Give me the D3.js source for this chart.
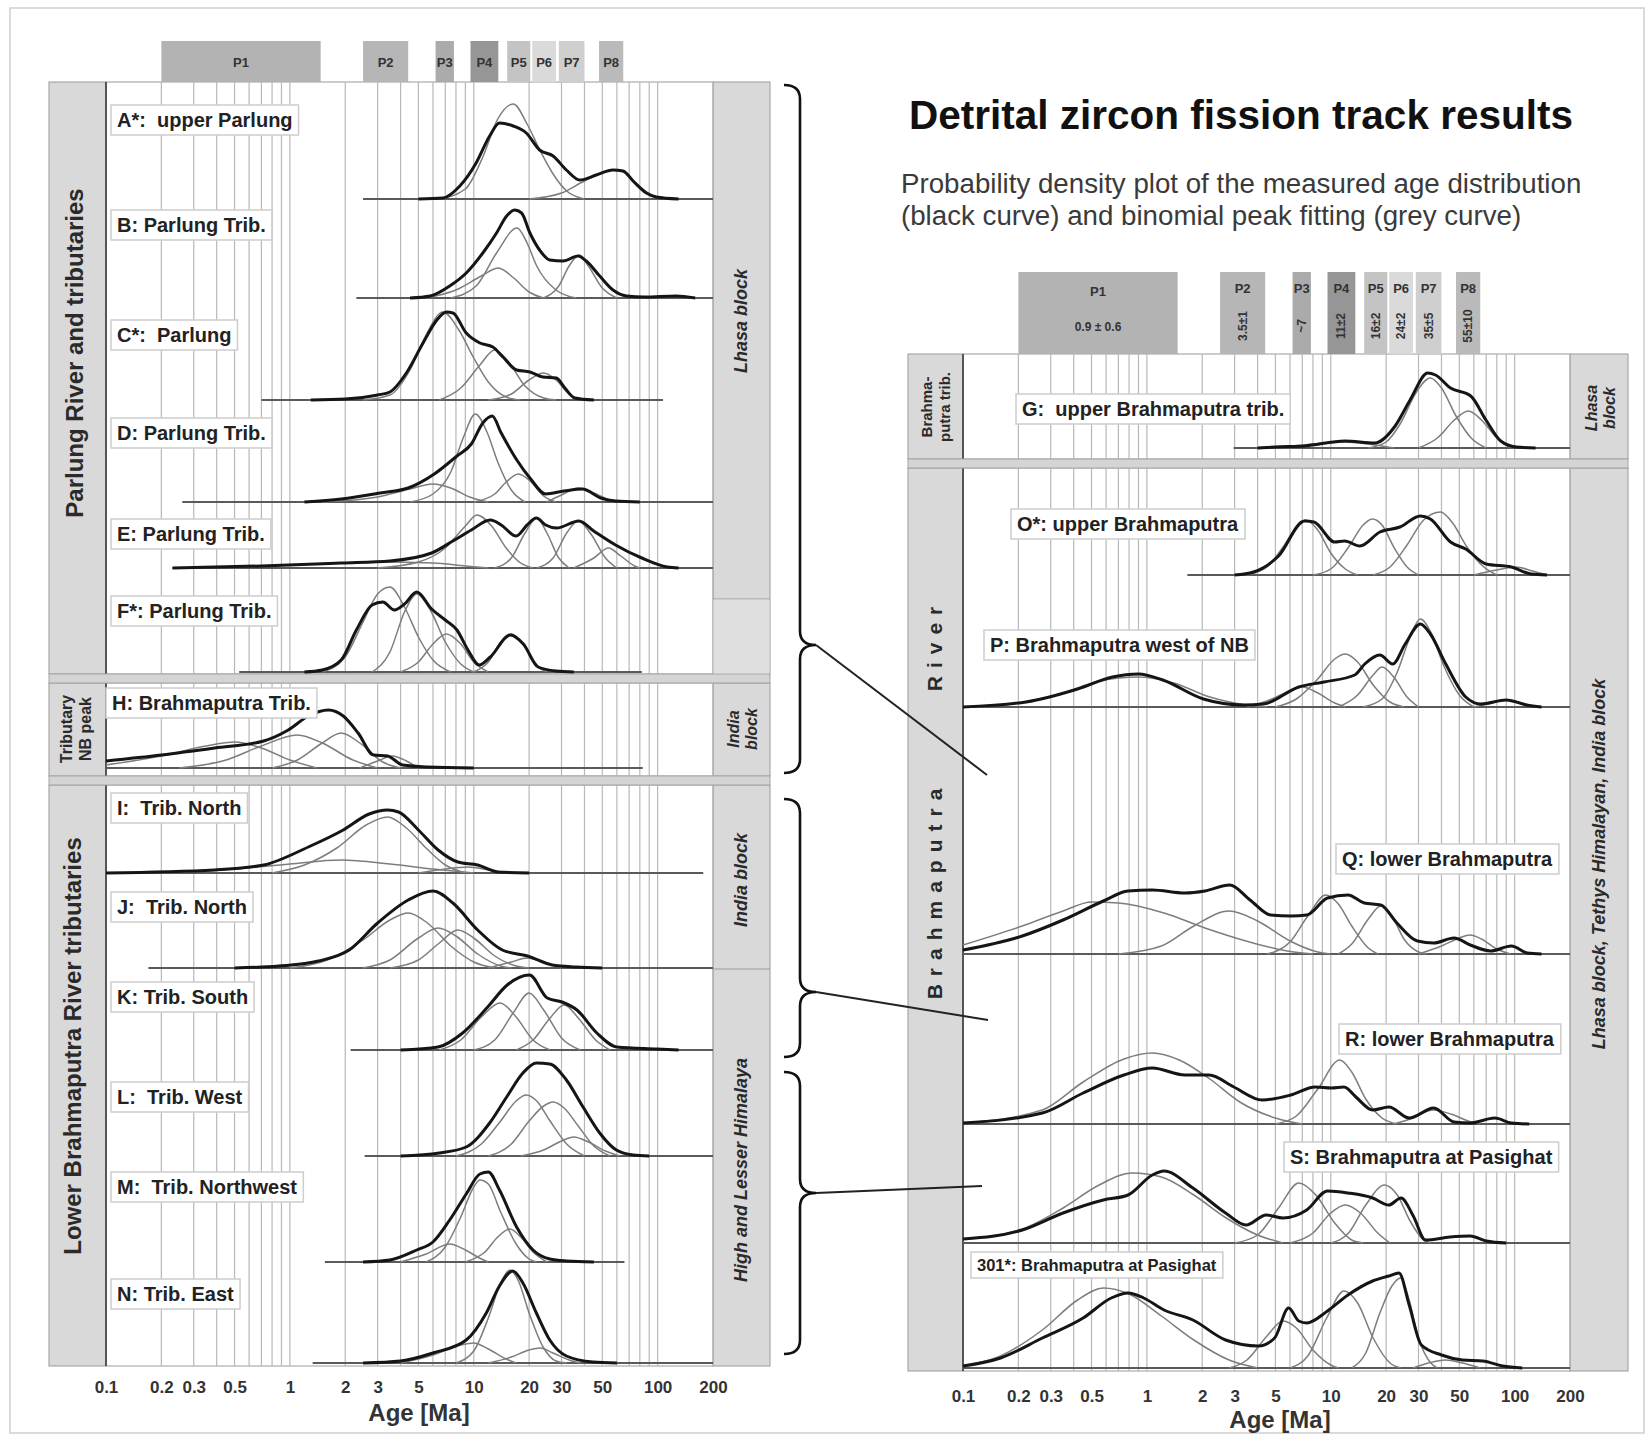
<!DOCTYPE html>
<html>
<head>
<meta charset="utf-8">
<script src="https://cdn.jsdelivr.net/npm/d3@7"></script>
<style>
  body { margin: 0; background: #fff; }
  svg { display: block; font-family: "Liberation Sans", Arial, sans-serif; }
</style>
</head>
<body>
<div id="chart"></div>
<script>
// ---- data ----
const tickAges = [0.1, 0.2, 0.3, 0.5, 1, 2, 3, 5, 10, 20, 30, 50, 100, 200];
const tickLabels = ["0.1", "0.2", "0.3", "0.5", "1", "2", "3", "5", "10", "20", "30", "50", "100", "200"];

const peakNames = ["P1", "P2", "P3", "P4", "P5", "P6", "P7", "P8"];
const peakLo = [0.2, 2.5, 6.2, 9.6, 15.2, 20.8, 29, 48];
const peakHi = [1.47, 4.4, 7.8, 13.6, 20.3, 28, 40, 65];
const peakAges = ["0.9 \u00b1 0.6", "3.5\u00b11", "~7", "11\u00b12", "16\u00b12", "24\u00b12", "35\u00b15", "55\u00b110"];

const sampleIds = ["A", "B", "C", "D", "E", "F", "H", "I", "J", "K", "L", "M", "N", "G", "O", "P", "Q", "R", "S", "301"];
const sampleLabels = ["A*:  upper Parlung", "B: Parlung Trib.", "C*:  Parlung", "D: Parlung Trib.", "E: Parlung Trib.",
  "F*: Parlung Trib.", "H: Brahmaputra Trib.", "I:  Trib. North", "J:  Trib. North", "K: Trib. South",
  "L:  Trib. West", "M:  Trib. Northwest", "N: Trib. East", "G:  upper Brahmaputra trib.", "O*: upper Brahmaputra",
  "P: Brahmaputra west of NB", "Q: lower Brahmaputra", "R: lower Brahmaputra", "S: Brahmaputra at Pasighat",
  "301*: Brahmaputra at Pasighat"];
const baseFrom = [2.5, 2.3, 0.7, 0.26, 0.23, 0.53, 0.1, 0.1, 0.17, 2.14, 2.55, 1.55, 1.33, 2.96, 1.66, 0.1, 0.1, 0.1, 0.1, 0.1];
const baseTo = [200, 200, 107, 200, 200, 82, 83, 177, 200, 200, 200, 66, 200, 200, 200, 200, 200, 200, 200, 200];

// probability density (black) and fitted peaks (grey): [age Ma, relative density]
const pdpA = [[5,0],[6.8,1],[8.4,13],[10.3,36],[12.2,63],[13.8,76],[16.4,73],[19.3,66],[22.8,49],[27,43],[31.9,29],[37.7,19],[46.4,24],[57.2,29],[64.8,28],[73.5,18],[86.8,6],[98.4,2],[130,0]];
const fitA = [
  [[6.5,0],[9,10],[11.2,42],[13.5,80],[16.4,95],[19.5,75],[23,48],[27,25],[32,8],[40,0]],
  [[20,0],[30,6],[40,18],[57,29],[66,27],[78,14],[95,3],[110,0]]
];
const pdpB = [[4.5,0],[5.8,2],[7.4,12],[9.1,25],[11.2,45],[13.3,65],[15.1,82],[16.7,88],[18.2,85],[20.2,65],[22.8,48],[25.9,38],[30.6,37],[36.9,42],[40.9,37],[48.4,22],[57.2,8],[67.6,2],[85,1],[126,2],[160,0]];
const fitB = [
  [[7.5,0],[10.3,12],[13.3,45],[17.2,70],[19.5,55],[22,32],[28,8],[36,0]],
  [[5.5,0],[8,8],[11,22],[13.6,30],[16.5,20],[20,6],[24,0]],
  [[24,0],[29,12],[33,32],[37.5,43],[42,32],[50,10],[60,0]]
];
const pdpC = [[1.3,0],[2,1],[3,5],[3.5,8],[4.3,27],[5.3,57],[6.3,80],[7.1,88],[7.7,87],[9.1,67],[10.8,57],[12.7,53],[14.4,43],[17.1,30],[20.2,28],[23.8,23],[28.1,22],[31.3,12],[35.4,2],[45,0]];
const fitC = [
  [[2.5,0],[3.5,5],[4.5,30],[5.5,65],[6.8,88],[8.3,70],[10,42],[12,18],[15,3],[18,0]],
  [[6.5,0],[8.5,12],[10.8,35],[13,50],[15.5,38],[19,14],[24,2],[28,0]],
  [[12,0],[16,6],[20,20],[24,27],[28,20],[33,6],[38,0]]
];
const pdpD = [[1.2,0],[1.9,3],[3.1,9],[4.4,14],[6.1,28],[8.1,46],[9.7,58],[11.2,79],[12.6,86],[14.1,69],[17,43],[20.4,23],[24.6,8],[31,11],[39,13],[49,4],[59,1],[80,0]];
const fitD = [
  [[4.5,0],[6,8],[7.5,30],[8.8,65],[10.2,88],[11.8,70],[13.5,40],[16,12],[19,0]],
  [[10,0],[13,8],[15,20],[17.5,28],[20.5,20],[24,6],[28,0]],
  [[1.5,0],[3,5],[4.5,13],[6,18],[7.5,14],[9.5,5],[12,0]],
  [[25,0],[30,7],[37,14],[45,9],[55,2],[62,0]]
];
const pdpE = [[0.23,0],[0.7,2],[1.9,5],[3.5,7],[5.9,15],[7.7,27],[9.7,38],[12.3,48],[14.1,43],[17,32],[19.5,43],[21.9,50],[24.6,43],[28.2,40],[37.3,47],[44.9,37],[59,23],[82,10],[113,1],[130,0]];
const fitE = [
  [[3,0],[5,6],[7,20],[9,42],[10.4,53],[12.5,42],[15,20],[18,5],[21,0]],
  [[13,0],[16,10],[19,35],[22,50],[25,35],[29,10],[33,0]],
  [[22,0],[27,10],[32,35],[37,47],[43,35],[52,10],[60,0]],
  [[35,0],[45,10],[54,20],[63,12],[75,2],[80,0]],
  [[0.3,0],[1,3],[3,6],[6,5],[9,2],[12,0]]
];
const pdpF = [[1.2,0],[1.5,2],[1.9,12],[2.3,42],[2.8,67],[3.2,70],[3.7,62],[4.2,68],[4.9,80],[5.9,63],[7,52],[8.1,42],[9.3,22],[10.7,7],[12.3,15],[15.8,37],[18.6,28],[22.4,5],[28,1],[35,0]];
const fitF = [
  [[1.5,0],[2,15],[2.5,50],[3,78],[3.5,85],[4.2,65],[5,35],[6,12],[7.5,0]],
  [[2.8,0],[3.5,20],[4.2,60],[4.9,78],[5.8,62],[7,30],[8.5,8],[10,0]],
  [[4,0],[5,10],[6,28],[7.1,38],[8.5,28],[10,10],[12,0]],
  [[10,0],[12,10],[14,30],[16,38],[18.5,28],[22,6],[25,0]]
];
const pdpH = [[0.1,7],[0.2,13],[0.39,20],[0.72,27],[0.98,38],[1.26,52],[1.62,58],[1.95,52],[2.35,35],[2.85,13],[3.4,12],[4.1,3],[5.6,1],[10,0]];
const fitH = [
  [[0.25,0],[0.45,8],[0.7,22],[1.1,33],[1.5,25],[2.2,8],[3,0]],
  [[0.8,0],[1.1,8],[1.5,25],[1.9,35],[2.4,25],[3.2,6],[4,0]],
  [[0.1,3],[0.2,12],[0.35,22],[0.5,26],[0.7,20],[1,8],[1.4,0]],
  [[2.4,0],[3,7],[3.6,12],[4.3,7],[5,0]]
];
const pdpI = [[0.1,0],[0.39,3],[0.72,8],[1.26,26],[1.95,43],[2.7,59],[3.4,63],[3.9,61],[5,43],[6.4,23],[8.2,11],[10.5,8],[13.5,1],[20,0]];
const fitI = [
  [[0.8,0],[1.2,8],[1.8,25],[2.6,48],[3.4,56],[4.3,45],[5.5,25],[7,8],[9,0]],
  [[0.2,0],[0.5,4],[1,9],[1.9,13],[3.5,9],[6,4],[10,0]],
  [[5,0],[7,4],[9.3,6],[12,3],[15,0]]
];
const pdpJ = [[0.5,0],[0.87,2],[1.43,7],[2.1,18],[3,45],[4.4,68],[6,77],[7.7,65],[10.5,38],[14.3,18],[19.6,12],[26.7,3],[36,1],[50,0]];
const fitJ = [
  [[1,0],[1.6,8],[2.5,28],[3.5,48],[4.4,55],[5.6,45],[7.5,22],[10,6],[13,0]],
  [[2.5,0],[3.5,8],[5,30],[6.4,40],[8,32],[10.5,14],[14,2],[16,0]],
  [[3.5,0],[5,8],[6.5,25],[8.2,38],[10,30],[13,12],[17,2],[20,0]],
  [[12,0],[16,6],[19.6,10],[24,6],[30,0]]
];
const pdpK = [[4,0],[6.4,3],[8.7,17],[11.9,43],[15.2,65],[20.1,75],[25.1,52],[30.2,48],[36.4,40],[46.7,17],[60,3],[99,1],[130,0]];
const fitK = [
  [[6.5,0],[8.5,10],[11,33],[13.9,47],[17,33],[21,10],[26,0]],
  [[10,0],[13,10],[16.5,38],[20,57],[24,40],[30,12],[38,0]],
  [[17,0],[21,10],[26,32],[31,45],[37,32],[46,10],[55,0]]
];
const pdpL = [[4,0],[6.5,3],[9.1,9],[12.2,33],[15.1,59],[18.5,83],[21.9,93],[25.9,92],[31.9,76],[39.3,49],[48.4,23],[59.6,6],[73.5,1],[90,0]];
const fitL = [
  [[8,0],[11,12],[14,35],[17,55],[19.3,61],[22,55],[26,35],[32,12],[40,0]],
  [[12,0],[16,12],[20,35],[24,50],[27,54],[31,48],[37,30],[45,10],[55,0]],
  [[18,0],[24,6],[30,15],[35,19],[42,14],[52,5],[62,0]]
];
const pdpM = [[2.5,0],[3.5,2],[4.9,12],[6,20],[7.4,42],[9.1,68],[10.8,88],[12,90],[13.8,72],[17.1,35],[21,12],[25.9,3],[32,1],[45,0]];
const fitM = [
  [[5.5,0],[7,15],[8.5,45],[10,75],[10.8,82],[12,78],[14,50],[17,18],[20,3],[22,0]],
  [[4,0],[5.5,8],[7.4,18],[9,12],[11,3],[12,0]],
  [[9,0],[11.5,10],[13.5,25],[15.7,33],[18,25],[21,10],[25,0]]
];
const pdpN = [[2.5,0],[4,2],[6,10],[9.1,23],[11.7,50],[13.8,77],[16.3,92],[18.5,80],[21.9,50],[25.9,23],[31.9,7],[44.5,1],[60,0]];
const fitN = [
  [[8,0],[10,12],[12,45],[14,80],[15.7,93],[17.5,82],[20,50],[24,15],[28,2],[32,0]],
  [[12,0],[16,6],[20,13],[23,15],[27,10],[33,3],[38,0]],
  [[4,0],[6,8],[8.5,18],[10,20],[12,14],[15,4],[17,0]]
];
const pdpG = [[4,0],[5,1],[7.2,2],[11.9,7],[17.4,5],[22.4,22],[27,48],[33.7,75],[37.1,73],[44.8,60],[57.7,52],[69.8,28],[84,7],[102,1],[130,0]];
const fitG = [
  [[16,0],[20,6],[24,25],[29,55],[34.8,70],[40,60],[48,32],[58,10],[70,0]],
  [[30,0],[38,10],[47,28],[56,37],[66,28],[80,10],[95,0]],
  [[5,0],[8,4],[12,6],[16,4],[22,0]]
];
const pdpO = [[3,0],[3.8,3],[5.2,19],[7.2,54],[8.1,53],[10.5,33],[11.9,34],[14.4,29],[18.5,43],[23.8,48],[30.7,59],[34.8,56],[44.8,33],[54.2,26],[70,11],[96,8],[123,1],[150,0]];
const fitO = [
  [[3.5,0],[4.5,8],[5.5,28],[6.5,48],[7.3,55],[8.5,45],[10,22],[12,6],[14,0]],
  [[8,0],[10,6],[12.5,28],[15,50],[16.8,56],[19,50],[22,28],[26,8],[30,0]],
  [[17,0],[21,8],[26,30],[32,55],[39.5,63],[46,52],[55,28],[68,8],[80,0]],
  [[60,0],[80,5],[102,8],[125,4],[150,0]]
];
const pdpP = [[0.1,0],[0.22,5],[0.42,18],[0.65,30],[0.9,33],[1.22,27],[2.03,8],[3.36,2],[4.3,3],[6.7,20],[9.2,25],[13.5,32],[15.3,43],[18.5,52],[21.7,43],[25.4,63],[30.7,83],[34.8,73],[42.2,43],[54.2,10],[65.5,3],[90,7],[116,2],[140,0]];
const fitP = [
  [[0.12,0],[0.2,4],[0.35,14],[0.55,26],[0.9,30],[1.4,24],[2.2,10],[3.5,2],[4.5,0]],
  [[5,0],[6.5,8],[8.5,28],[10.5,48],[12,53],[14,45],[17,22],[21,5],[25,0]],
  [[15,0],[19,8],[23,35],[27,70],[30.7,88],[35,75],[41,42],[50,12],[60,0]],
  [[11,0],[14,12],[17,32],[19,40],[22,30],[26,10],[30,0]],
  [[3.5,0],[4.5,6],[5.8,15],[7,20],[8.5,14],[10.5,4],[12,0]],
  [[60,0],[75,4],[90,7],[110,4],[130,0]]
];
const pdpQ = [[0.1,4],[0.21,18],[0.35,34],[0.58,53],[0.79,63],[1.07,64],[1.61,61],[2.07,63],[2.82,69],[3.64,54],[4.7,39],[6.1,38],[7.4,39],[9.6,56],[12.4,59],[15.2,51],[18.7,49],[22.9,31],[29.6,13],[36.3,11],[46.8,16],[57.4,9],[74,3],[96,8],[117,1],[140,0]];
const fitQ = [
  [[0.1,9],[0.21,28],[0.35,43],[0.5,52],[0.7,51],[1.24,41],[2.07,26],[3.46,13],[5.8,3],[8,0]],
  [[0.7,0],[1.2,8],[1.8,28],[2.8,43],[4,33],[6,13],[8.5,2],[10,0]],
  [[4.5,0],[6,12],[7.5,38],[9.4,59],[11,50],[13,28],[16,6],[18,0]],
  [[11,0],[13,10],[16,35],[18.7,48],[21.5,38],[25,15],[30,2],[33,0]],
  [[30,0],[40,8],[50,16],[57,19],[66,15],[80,5],[95,0]]
];
const pdpR = [[0.1,1],[0.27,11],[0.45,31],[0.75,49],[1.07,56],[1.61,49],[2.18,49],[2.97,37],[4.24,24],[6.06,29],[8.24,37],[10.1,36],[11.8,37],[13.7,27],[16.9,14],[20.7,17],[26.7,6],[36.3,16],[46.8,2],[57.4,1],[78,6],[96,1],[120,0]];
const fitR = [
  [[0.1,1],[0.27,14],[0.45,42],[0.75,65],[1.07,71],[1.5,64],[2.2,45],[3.2,22],[5,6],[7,0]],
  [[5,0],[6.5,8],[8.5,35],[11.2,64],[13,52],[15.5,25],[19,6],[23,0]],
  [[22,0],[28,6],[36,14],[45,10],[56,3],[65,0]]
];
const pdpS = [[0.1,4],[0.21,13],[0.35,30],[0.58,43],[0.79,48],[1.07,68],[1.24,72],[1.78,55],[2.68,30],[3.46,18],[4.46,28],[5.5,25],[7.4,33],[9.6,52],[12.4,50],[16.9,45],[20.7,38],[24.1,45],[28.1,27],[32.7,3],[44.5,6],[57.4,7],[70,2],[90,0]];
const fitS = [
  [[0.1,4],[0.21,14],[0.35,35],[0.55,58],[0.83,70],[1.2,66],[1.8,48],[2.7,25],[4,8],[5.5,0]],
  [[3,0],[4,8],[5.2,35],[6.7,60],[8.3,48],[10.5,20],[13,3],[15,0]],
  [[10,0],[12.5,10],[15.5,38],[19.6,58],[23,48],[27,22],[32,3],[35,0]],
  [[6,0],[8,10],[10,30],[12,38],[14.5,30],[18,10],[21,0]]
];
const pdp301 = [[0.1,2],[0.16,10],[0.27,30],[0.45,50],[0.64,70],[0.79,75],[0.96,70],[1.24,58],[1.78,48],[2.68,28],[4.04,22],[4.95,30],[5.9,60],[6.7,47],[7.4,45],[9.6,57],[12.4,73],[16.9,87],[20.7,92],[23.5,95],[26.7,63],[31.1,23],[40,13],[52,8],[67,7],[86,2],[110,0]];
const fit301 = [
  [[0.1,2],[0.16,12],[0.27,38],[0.42,68],[0.58,80],[0.8,74],[1.2,52],[1.8,28],[2.8,8],[4,0]],
  [[2.8,0],[3.5,8],[4.5,32],[5.5,47],[6.5,40],[8,18],[10,3],[11,0]],
  [[6,0],[7.5,12],[9.5,50],[11.8,77],[14,65],[17,30],[21,5],[24,0]],
  [[13,0],[15.5,15],[18.5,55],[21.5,82],[24,90],[26.5,70],[30,30],[35,5],[38,0]],
  [[28,0],[34,5],[42,8],[52,5],[65,0]]
];

const pdps = [pdpA, pdpB, pdpC, pdpD, pdpE, pdpF, pdpH, pdpI, pdpJ, pdpK, pdpL, pdpM, pdpN, pdpG, pdpO, pdpP, pdpQ, pdpR, pdpS, pdp301];
const fits = [fitA, fitB, fitC, fitD, fitE, fitF, fitH, fitI, fitJ, fitK, fitL, fitM, fitN, fitG, fitO, fitP, fitQ, fitR, fitS, fit301];

// ---- layout and styles ----
const width = 1652, height = 1440;
const panels = {
  L: { x0: 106, x1: 713, sl: 49, sr: 770, boxTop: 41, boxBot: 82, tickY: 1381, axisY: 1421, axisX: 419,
       sections: [[82, 674], [683, 776], [785, 1366]] },
  R: { x0: 963, x1: 1570, sl: 908, sr: 1628, boxTop: 272, boxBot: 354, tickY: 1390, axisY: 1428, axisX: 1280,
       sections: [[354, 459], [468, 1371]] }
};
// row layout: panel, baseline y, label x, label y, label font size
const rowPanel = ["L","L","L","L","L","L","L","L","L","L","L","L","L","R","R","R","R","R","R","R"];
const rowBase = [199, 298, 400, 502, 568, 672, 768, 873, 968, 1050, 1156, 1262, 1363, 448, 575, 707, 954, 1124, 1243, 1368];
const rowLabelX = [117, 117, 117, 117, 117, 117, 112, 117, 117, 117, 117, 117, 117, 1022, 1017, 990, 1342, 1345, 1290, 977];
const rowLabelY = [120, 225, 335, 433, 534, 611, 703, 808, 907, 997, 1097, 1187, 1294, 409, 524, 645, 859, 1039, 1157, 1265];
const rowLabelSize = [20,20,20,20,20,20,20,20,20,20,20,20,20,20,20,20,20,20,20,16.5];
const peakFill = ["#b3b3b3", "#b6b6b6", "#ababab", "#969696", "#c4c4c4", "#dadada", "#cfcfcf", "#bababa"];
const stripFill = "#d9d9d9", frameStroke = "#9a9a9a";

const svg = d3.select("#chart").append("svg")
  .attr("width", width).attr("height", height);

svg.append("rect").attr("x", 10).attr("y", 8).attr("width", 1634).attr("height", 1425)
  .attr("fill", "#fff").attr("stroke", "#cfcfcf").attr("stroke-width", 1.5);

const xs = {};
Object.entries(panels).forEach(([key, p]) => {
  const x = d3.scaleLog().domain([0.1, 200]).range([p.x0, p.x1]);
  xs[key] = x;
  const g = svg.append("g");

  p.sections.forEach(([t, b]) => {
    g.append("rect").attr("x", p.sl).attr("y", t).attr("width", p.x0 - p.sl).attr("height", b - t)
      .attr("fill", stripFill).attr("stroke", frameStroke);
    g.append("rect").attr("x", p.x1).attr("y", t).attr("width", p.sr - p.x1).attr("height", b - t)
      .attr("fill", stripFill).attr("stroke", frameStroke);
    g.append("rect").attr("x", p.x0).attr("y", t).attr("width", p.x1 - p.x0).attr("height", b - t)
      .attr("fill", "#fff").attr("stroke", frameStroke);
    g.selectAll(null).data(x.ticks()).join("line")
      .attr("x1", d => x(d)).attr("x2", d => x(d)).attr("y1", t).attr("y2", b)
      .attr("stroke", d => d === 0.1 ? "#555" : "#b8b8b8")
      .attr("stroke-width", d => d === 0.1 ? 2 : 1.2);
  });
  // separators between sections
  for (let i = 1; i < p.sections.length; i++) {
    const y0 = p.sections[i - 1][1], y1 = p.sections[i][0];
    g.append("rect").attr("x", p.sl).attr("y", y0).attr("width", p.sr - p.sl).attr("height", y1 - y0)
      .attr("fill", "#d4d4d4").attr("stroke", "#a5a5a5");
  }

  // peak boxes
  const pb = g.selectAll(null).data(peakNames).join("g");
  pb.append("rect")
    .attr("x", (d, i) => x(peakLo[i])).attr("width", (d, i) => x(peakHi[i]) - x(peakLo[i]))
    .attr("y", p.boxTop).attr("height", p.boxBot - p.boxTop)
    .attr("fill", (d, i) => peakFill[i]);
  if (key === "L") {
    pb.append("text")
      .attr("x", (d, i) => (x(peakLo[i]) + x(peakHi[i])) / 2).attr("y", 62)
      .attr("text-anchor", "middle").attr("dominant-baseline", "central")
      .attr("font-size", 13).attr("font-weight", "bold").attr("fill", "#333")
      .text(d => d);
  } else {
    pb.append("text")
      .attr("x", (d, i) => (x(peakLo[i]) + x(peakHi[i])) / 2).attr("y", (d, i) => i === 0 ? 291 : 288)
      .attr("text-anchor", "middle").attr("dominant-baseline", "central")
      .attr("font-size", 13).attr("font-weight", "bold").attr("fill", "#333")
      .text(d => d);
    pb.append("text")
      .attr("transform", (d, i) => {
        const cx = (x(peakLo[i]) + x(peakHi[i])) / 2;
        return i === 0 ? `translate(${cx},327)` : `translate(${cx},326) rotate(-90)`;
      })
      .attr("text-anchor", "middle").attr("dominant-baseline", "central")
      .attr("font-size", 12).attr("font-weight", "bold").attr("fill", "#333")
      .text((d, i) => peakAges[i]);
  }

  // tick labels via axis
  const axis = d3.axisBottom(x).tickValues(tickAges)
    .tickFormat((d, i) => tickLabels[i]).tickSize(0).tickPadding(0);
  const ag = svg.append("g").attr("transform", `translate(0,${p.tickY})`).call(axis);
  ag.select(".domain").remove();
  ag.selectAll("text").attr("font-size", 17).attr("font-weight", "bold").attr("fill", "#333")
    .attr("font-family", "Liberation Sans, Arial, sans-serif");
  svg.append("text").attr("x", p.axisX).attr("y", p.axisY).attr("text-anchor", "middle")
    .attr("font-size", 24).attr("font-weight", "bold").attr("fill", "#333").text("Age [Ma]");
});

// ---- samples ----
const line = d3.line().curve(d3.curveMonotoneX);
sampleIds.forEach((id, i) => {
  const x = xs[rowPanel[i]];
  const y = d3.scaleLinear().domain([0, 100]).range([rowBase[i], rowBase[i] - 100]);
  line.x(d => x(d[0])).y(d => y(d[1]));
  const g = svg.append("g").attr("class", "sample-" + id);
  g.append("line").attr("x1", x(baseFrom[i])).attr("x2", x(baseTo[i]))
    .attr("y1", y(0)).attr("y2", y(0)).attr("stroke", "#5a5a5a").attr("stroke-width", 2.2);
  g.selectAll(null).data(fits[i]).join("path")
    .attr("d", line).attr("fill", "none").attr("stroke", "#7d7d7d").attr("stroke-width", 1.5);
  g.append("path").datum(pdps[i]).attr("d", line)
    .attr("fill", "none").attr("stroke", "#151515").attr("stroke-width", 3)
    .attr("stroke-linejoin", "round");

  const lbl = g.append("g");
  const txt = lbl.append("text").attr("x", rowLabelX[i]).attr("y", rowLabelY[i])
    .attr("dominant-baseline", "central").style("white-space", "pre")
    .attr("font-size", rowLabelSize[i]).attr("font-weight", "bold").attr("fill", "#222")
    .text(sampleLabels[i]);
  const bb = txt.node().getBBox();
  lbl.insert("rect", "text").attr("x", bb.x - 6).attr("y", bb.y - 4)
    .attr("width", bb.width + 12).attr("height", bb.height + 8)
    .attr("fill", "#fff").attr("stroke", "#cdcdcd").attr("stroke-width", 1.5);
});

// extra divisions in right-hand strips
svg.append("line").attr("x1", 713).attr("x2", 770).attr("y1", 599).attr("y2", 599).attr("stroke", frameStroke);
svg.append("rect").attr("x", 713.5).attr("y", 599.5).attr("width", 56).attr("height", 74).attr("fill", "#dfdfdf");
svg.append("line").attr("x1", 713).attr("x2", 770).attr("y1", 969).attr("y2", 969).attr("stroke", frameStroke);

// ---- strip labels ----
function vtext(cx, cy, str, size, opts = {}) {
  svg.append("text").attr("transform", `translate(${cx},${cy}) rotate(-90)`)
    .attr("text-anchor", "middle").attr("dominant-baseline", "central")
    .attr("font-size", size).attr("font-weight", "bold").attr("fill", "#2a2a2a")
    .attr("font-style", opts.italic ? "italic" : "normal")
    .attr("letter-spacing", opts.spacing || 0)
    .text(str);
}
vtext(74, 353, "Parlung River and tributaries", 24);
vtext(66, 729, "Tributary", 16);
vtext(85, 729, "NB peak", 16);
vtext(72, 1046, "Lower Brahmaputra River tributaries", 24);
vtext(741, 321, "Lhasa block", 18, { italic: true });
vtext(733, 729, "India", 16, { italic: true });
vtext(751, 729, "block", 16, { italic: true });
vtext(741, 880, "India block", 18, { italic: true });
vtext(741, 1170, "High and Lesser Himalaya", 18, { italic: true });
vtext(926, 407, "Brahma-", 15);
vtext(944, 407, "putra trib.", 15);
vtext(934, 645, "River", 21, { spacing: 8 });
vtext(934, 890, "Brahmaputra", 21, { spacing: 8 });
vtext(1591, 408, "Lhasa", 16, { italic: true });
vtext(1609, 408, "block", 16, { italic: true });
vtext(1599, 864, "Lhasa block, Tethys Himalayan, India block", 18, { italic: true });

// ---- braces linking the two panels ----
function bracePath(xm, y0, y1, yt) {
  const r = 14, w = 16;
  return `M${xm - w},${y0} Q${xm},${y0} ${xm},${y0 + r} L${xm},${yt - r} Q${xm},${yt} ${xm + w},${yt}` +
         ` Q${xm},${yt} ${xm},${yt + r} L${xm},${y1 - r} Q${xm},${y1} ${xm - w},${y1}`;
}
const braces = [
  { y0: 85, y1: 773, yt: 645, tx: 987, ty: 775 },
  { y0: 799, y1: 1057, yt: 992, tx: 988, ty: 1020 },
  { y0: 1072, y1: 1354, yt: 1193, tx: 982, ty: 1186 }
];
braces.forEach(b => {
  svg.append("path").attr("d", bracePath(800, b.y0, b.y1, b.yt))
    .attr("fill", "none").attr("stroke", "#111").attr("stroke-width", 2.6);
  svg.append("line").attr("x1", 816).attr("y1", b.yt).attr("x2", b.tx).attr("y2", b.ty)
    .attr("stroke", "#222").attr("stroke-width", 2);
});

// ---- title ----
svg.append("text").attr("x", 1241).attr("y", 129).attr("text-anchor", "middle")
  .attr("font-size", 40.5).attr("font-weight", "bold").attr("fill", "#111")
  .text("Detrital zircon fission track results");
svg.append("text").attr("x", 901).attr("y", 193).attr("font-size", 27.7).attr("fill", "#3a3a3a")
  .text("Probability density plot of the measured age distribution");
svg.append("text").attr("x", 901).attr("y", 225).attr("font-size", 27.7).attr("fill", "#3a3a3a")
  .text("(black curve) and binomial peak fitting (grey curve)");
</script>
</body>
</html>
